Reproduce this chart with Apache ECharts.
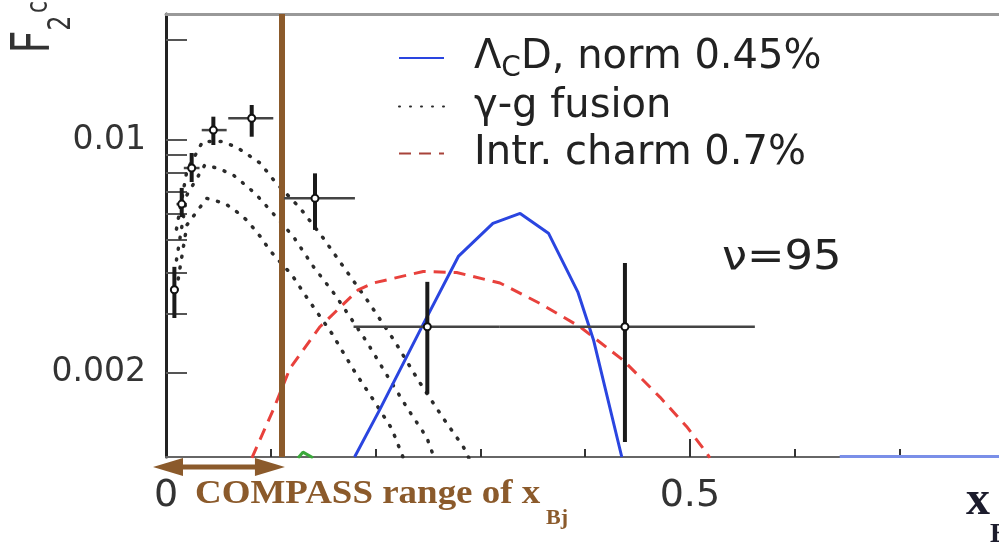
<!DOCTYPE html>
<html><head><meta charset="utf-8">
<script src="https://cdn.jsdelivr.net/npm/echarts@6/dist/echarts.min.js"></script>
<style>html,body{margin:0;padding:0;background:#fff}#c{width:999px;height:547px}</style>
</head><body><div id="c"></div>
<script>
// ---- axes ----
const xMin = 0, xMax = 0.795;
const yMin = 0.001117, yMax = 0.0239;
const xLabelValues = [0, 0.5];
const xTickValues = [0.1, 0.2, 0.3, 0.4, 0.6, 0.7];
const xMajorTickValues = [0.5];
const yLabelValues = [0.002, 0.01];
const yTickValues = [0.002, 0.003, 0.004, 0.005, 0.006, 0.007, 0.008, 0.009, 0.01, 0.02];

// ---- Lambda_C D curve ----
const lambdaX = [0.180, 0.204, 0.246, 0.279, 0.312, 0.338, 0.365, 0.393, 0.408, 0.435];
const lambdaY = [0.001117, 0.00155, 0.00282, 0.00447, 0.00562, 0.00602, 0.00525, 0.00350, 0.00251, 0.001117];
const lambdaTailX = [0.643, 0.795];
const lambdaTailY = [0.00112, 0.00112];

// ---- gamma-g fusion curves ----
const fusionAX = [0.010, 0.020, 0.035, 0.053, 0.0675, 0.0785, 0.0897, 0.104, 0.128, 0.149, 0.168, 0.193, 0.2185, 0.2407, 0.2646, 0.2837, 0.289];
const fusionAY = [0.0054, 0.0081, 0.0099, 0.0099, 0.00951, 0.00902, 0.00853, 0.0075, 0.00624, 0.00513, 0.00422, 0.00327, 0.00248, 0.0019, 0.00146, 0.0012, 0.00111];
const fusionBX = [0.010, 0.020, 0.037, 0.050, 0.0642, 0.0738, 0.0849, 0.0992, 0.1215, 0.1406, 0.1613, 0.1915, 0.209, 0.2312, 0.2488, 0.256];
const fusionBY = [0.00436, 0.00684, 0.00841, 0.00822, 0.00785, 0.00741, 0.00692, 0.00617, 0.00513, 0.00417, 0.00343, 0.00248, 0.00201, 0.00155, 0.00128, 0.00111];
const fusionCX = [0.010, 0.020, 0.0388, 0.0563, 0.0675, 0.077, 0.0849, 0.0913, 0.0976, 0.104, 0.120, 0.1326, 0.1581, 0.1803, 0.1978, 0.2154, 0.2265];
const fusionCY = [0.00355, 0.00556, 0.00668, 0.00645, 0.00609, 0.00575, 0.00537, 0.00507, 0.00473, 0.00447, 0.00394, 0.00343, 0.00263, 0.00201, 0.00166, 0.00136, 0.00111];

// ---- intrinsic charm ----
const charmX = [0.082, 0.1024, 0.1183, 0.147, 0.1835, 0.1978, 0.2455, 0.2774, 0.3187, 0.3569, 0.395, 0.4364, 0.4714, 0.4968, 0.5159, 0.519];
const charmY = [0.00111, 0.00155, 0.00206, 0.00275, 0.00355, 0.00372, 0.00403, 0.00400, 0.00372, 0.00323, 0.00275, 0.00218, 0.00169, 0.00138, 0.00115, 0.00111];

// ---- small green bit ----
const greenX = [0.126, 0.1307, 0.1403];
const greenY = [0.00111, 0.001155, 0.00111];

// ---- data points with error bars ----
const ptX   = [0.008, 0.015, 0.0245, 0.0452, 0.0818, 0.1422, 0.2494, 0.438];
const ptY   = [0.00355, 0.00642, 0.00824, 0.01071, 0.01162, 0.00668, 0.00275, 0.00275];
const ptXLo = [0.004, 0.010, 0.017, 0.0341, 0.0594, 0.1126, 0.179, 0.318];
const ptXHi = [0.012, 0.020, 0.032, 0.0579, 0.1024, 0.1803, 0.318, 0.562];
const ptYLo = [0.00292, 0.00587, 0.00748, 0.00966, 0.01023, 0.00537, 0.00173, 0.00124];
const ptYHi = [0.00416, 0.00718, 0.00914, 0.01175, 0.01274, 0.00794, 0.00375, 0.00427];

// ---- annotations ----
const compassBoundaryX = 0.1135;
const compassArrowFromX = -0.0124;

const L = Math.log10;
const pairs = (xs, ys) => xs.map((x, i) => [x, L(ys[i])]);
const BROWN = '#8b5a2b';

const chart = echarts.init(document.getElementById('c'), null, {renderer: 'canvas'});

function fmtY(v) {
  for (const l of yLabelValues) if (Math.abs(L(l) - v) < 1e-6) return String(l);
  return '';
}

const errData = ptX.map((x, i) => [x, L(ptY[i]), ptXLo[i], ptXHi[i], L(ptYLo[i]), L(ptYHi[i])]);

const dotted = {type: [1, 10], cap: 'round', width: 3.5, color: '#2b2b2b'};

const option = {
  animation: false,
  backgroundColor: '#ffffff',
  grid: {left: 166, right: 0, top: 14, bottom: 90, containLabel: false, outerBoundsMode: 'none'},
  legend: {
    orient: 'vertical', left: 393, top: 28, itemGap: 0, itemWidth: 45, itemHeight: 14,
    itemStyle: {opacity: 0},
    data: [
      {name: 'ΛCD, norm 0.45%'},
      {name: 'γ-g fusion'},
      {name: 'Intr. charm 0.7%', lineStyle: {color: '#a8433a'}}
    ],
    formatter: function (name) {
      if (name === 'ΛCD, norm 0.45%') return '{n|Λ}{s|C}{n|D, norm 0.45%}';
      return '{n|' + name + '}';
    },
    textStyle: {
      fontSize: 40, fontFamily: 'DejaVu Sans', color: '#222', lineHeight: 47, padding: [0, 0, 0, 25],
      rich: {
        n: {fontSize: 40, fontFamily: 'DejaVu Sans', color: '#222', lineHeight: 47},
        s: {fontSize: 28, fontFamily: 'DejaVu Sans', color: '#222', lineHeight: 47, padding: [22, 0, 0, 0]}
      }
    }
  },
  xAxis: [
    {type: 'value', min: xMin, max: xMax, position: 'bottom', splitLine: {show: false},
     axisLine: {show: true, onZero: false, lineStyle: {color: '#666', width: 2}},
     axisTick: {show: true, inside: true, length: 8, customValues: xTickValues, lineStyle: {color: '#333', width: 2}},
     axisLabel: {customValues: xLabelValues, fontSize: 38, fontFamily: 'DejaVu Sans', color: '#333', margin: 20,
                 formatter: v => String(v)}},
    {type: 'value', min: xMin, max: xMax, position: 'bottom', splitLine: {show: false},
     axisLine: {show: false, onZero: false},
     axisTick: {show: true, inside: true, length: 18, customValues: xMajorTickValues, lineStyle: {color: '#333', width: 2}},
     axisLabel: {show: false}},
    {type: 'value', min: xMin, max: xMax, position: 'top', splitLine: {show: false},
     axisLine: {show: true, onZero: false, lineStyle: {color: '#999', width: 3}},
     axisTick: {show: false}, axisLabel: {show: false}}
  ],
  yAxis: {
    type: 'value', min: L(yMin), max: L(yMax), splitLine: {show: false},
    axisLine: {show: true, lineStyle: {color: '#222', width: 3}},
    axisTick: {show: true, inside: true, length: 21, customValues: yTickValues.map(v => L(v)), lineStyle: {color: '#555', width: 2}},
    axisLabel: {customValues: yLabelValues.map(v => L(v)), formatter: fmtY, fontSize: 33,
                fontFamily: 'DejaVu Sans', color: '#333', margin: 20}
  },
  series: [
    {name: 'γ-g fusion', type: 'line', data: pairs(fusionAX, fusionAY), symbol: 'none', smooth: false,
     lineStyle: dotted, itemStyle: {color: '#2b2b2b'}, z: 2},
    {name: 'γ-g fusion', type: 'line', data: pairs(fusionBX, fusionBY), symbol: 'none',
     lineStyle: dotted, itemStyle: {color: '#2b2b2b'}, z: 2},
    {name: 'γ-g fusion', type: 'line', data: pairs(fusionCX, fusionCY), symbol: 'none',
     lineStyle: dotted, itemStyle: {color: '#2b2b2b'}, z: 2},
    {name: 'Intr. charm 0.7%', type: 'line', data: pairs(charmX, charmY), symbol: 'none',
     lineStyle: {type: [12, 8], width: 3, color: '#e8413c'}, itemStyle: {color: '#e8413c'}, z: 3,
     markLine: {silent: true, symbol: ['none', 'none'], label: {show: false},
                lineStyle: {color: BROWN, width: 6, type: 'solid'},
                data: [{xAxis: compassBoundaryX}]}},
    {name: 'ΛCD, norm 0.45%', type: 'line', data: pairs(lambdaX, lambdaY), symbol: 'none',
     lineStyle: {width: 3, color: '#2a45e0'}, itemStyle: {color: '#2a45e0'}, z: 4},
    {name: 'ΛCD, norm 0.45%', type: 'line', data: pairs(lambdaTailX, lambdaTailY), symbol: 'none',
     lineStyle: {width: 3, color: '#7a8fe8'}, itemStyle: {color: '#2a45e0'}, z: 1},
    {name: 'green', type: 'line', data: pairs(greenX, greenY), symbol: 'none',
     lineStyle: {width: 3, color: '#3aa83a'}, z: 2},
    {name: 'data', type: 'custom', data: errData, z: 5,
     encode: {x: [0, 2, 3], y: [1, 4, 5]},
     renderItem: function (params, api) {
       const x = api.value(0), y = api.value(1);
       const c = api.coord([x, y]);
       const l = api.coord([api.value(2), y]);
       const r = api.coord([api.value(3), y]);
       const b = api.coord([x, api.value(4)]);
       const t = api.coord([x, api.value(5)]);
       return {type: 'group', children: [
         {type: 'line', shape: {x1: l[0], y1: l[1], x2: r[0], y2: r[1]}, style: {stroke: '#444', lineWidth: 2.5}},
         {type: 'line', shape: {x1: t[0], y1: t[1], x2: b[0], y2: b[1]}, style: {stroke: '#1a1a1a', lineWidth: 4}},
         {type: 'circle', shape: {cx: c[0], cy: c[1], r: 3.5}, style: {fill: '#fff', stroke: '#111', lineWidth: 2}}
       ]};
     }}
  ]
};
chart.setOption(option);

// annotation graphics positioned through the axis scale
const ax0 = chart.convertToPixel({xAxisIndex: 0}, compassArrowFromX);
const ax1 = chart.convertToPixel({xAxisIndex: 0}, compassBoundaryX);
const ay = chart.convertToPixel({yAxisIndex: 0}, L(yMin)) + 10;
const head = 30, hh = 9;
chart.setOption({
  graphic: [
    {type: 'line', shape: {x1: ax0 + head - 2, y1: ay, x2: ax1 - head + 2, y2: ay}, style: {stroke: BROWN, lineWidth: 5}},
    {type: 'polygon', shape: {points: [[ax0, ay], [ax0 + head, ay - hh], [ax0 + head, ay + hh]]}, style: {fill: BROWN}},
    {type: 'polygon', shape: {points: [[ax1, ay], [ax1 - head, ay - hh], [ax1 - head, ay + hh]]}, style: {fill: BROWN}},
    {type: 'text', x: 195, y: 494, scaleX: 1.12,
     style: {text: 'COMPASS range of x', fontSize: 33, fontWeight: 'bold', fontFamily: 'Liberation Serif', fill: BROWN, align: 'left', verticalAlign: 'middle'}},
    {type: 'text', x: 546, y: 519, scaleX: 1.1,
     style: {text: 'Bj', fontSize: 20, fontWeight: 'bold', fontFamily: 'Liberation Serif', fill: BROWN, align: 'left', verticalAlign: 'middle'}},
    {type: 'text', x: 966, y: 502,
     style: {text: 'x', fontSize: 48, fontWeight: 'bold', fontFamily: 'Liberation Serif', fill: '#1c1c2c', align: 'left', verticalAlign: 'middle'}},
    {type: 'text', x: 990, y: 535,
     style: {text: 'Bj', fontSize: 28, fontWeight: 'bold', fontFamily: 'Liberation Serif', fill: '#1c1c2c', align: 'left', verticalAlign: 'middle'}},
    {type: 'text', x: 722, y: 259, scaleX: 1.12,
     style: {text: 'ν=95', fontSize: 40, fontFamily: 'DejaVu Sans', fill: '#222', align: 'left', verticalAlign: 'middle'}},
    {type: 'text', x: 35, y: 42, rotation: Math.PI / 2, scaleY: 1.35,
     style: {text: 'F', fontSize: 40, fontFamily: 'DejaVu Sans', fill: '#333', align: 'center', verticalAlign: 'middle'}},
    {type: 'text', x: 62, y: 23, rotation: Math.PI / 2, scaleY: 1.35,
     style: {text: '2', fontSize: 24, fontFamily: 'DejaVu Sans', fill: '#333', align: 'center', verticalAlign: 'middle'}},
    {type: 'text', x: 39, y: 7, rotation: Math.PI / 2, scaleY: 1.35,
     style: {text: 'c', fontSize: 22, fontFamily: 'DejaVu Sans', fill: '#333', align: 'center', verticalAlign: 'middle'}}
  ]
});
</script>
</body></html>
